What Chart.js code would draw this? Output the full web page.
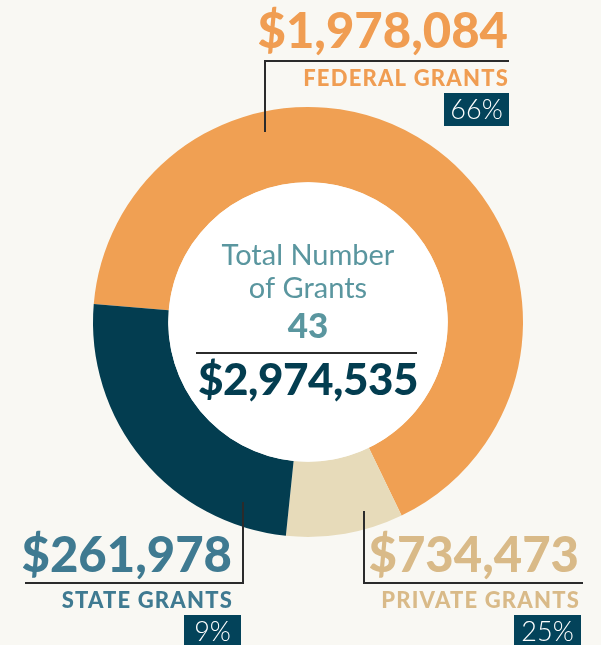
<!DOCTYPE html>
<html>
<head>
<meta charset="utf-8">
<script src="https://cdn.jsdelivr.net/npm/chart.js@4"></script>
<style>
  html, body { margin: 0; padding: 0; background: #f9f8f3; }
  #wrap { width: 601px; height: 645px; }
</style>
</head>
<body>
<div id="wrap"><canvas id="grafica"></canvas></div>
<script>
// Datos de la grafica (orden de los sectores: naranja, beige, azul)
var categorias = ['Federal Grants', 'State Grants', 'Private Grants'];
var montos = [1978084, 261978, 734473];
var etiquetasMonto = ['$1,978,084', '$261,978', '$734,473'];
var etiquetasNombre = ['FEDERAL GRANTS', 'STATE GRANTS', 'PRIVATE GRANTS'];
var etiquetasPct = ['66%', '9%', '25%'];
var totalGrants = 43;
var totalMonto = '$2,974,535';

var colores = ['#f0a053', '#e7dbba', '#033d50'];

// Textos alrededor de la dona
var anotaciones = {
    id: 'anotaciones',
    beforeDraw: function(chart) {
        var ctx = chart.ctx;
        ctx.save();
        ctx.fillStyle = '#f9f8f3';
        ctx.fillRect(0, 0, chart.width, chart.height);
        ctx.restore();
    },
    afterDatasetsDraw: function(chart) {
        var ctx = chart.ctx;
        var arc = chart.getDatasetMeta(0).data[0];
        var cx = arc.x, cy = arc.y;
        ctx.save();

        // circulo blanco del centro
        ctx.fillStyle = '#ffffff';
        ctx.beginPath();
        ctx.arc(cx, cy, arc.innerRadius, 0, Math.PI * 2);
        ctx.fill();

        // texto central
        ctx.textAlign = 'center';
        ctx.fillStyle = '#5a969f';
        ctx.font = '29px Lato';
        ctx.fillText('Total Number', cx, 265);
        ctx.fillText('of Grants', cx, 298);
        ctx.font = '900 35px Lato';
        ctx.fillText(String(totalGrants), cx, 338);
        ctx.fillStyle = '#033d50';
        ctx.font = '900 44px Lato';
        ctx.letterSpacing = '-0.5px';
        ctx.fillText(totalMonto, cx, 395);

        // lineas guia
        ctx.strokeStyle = '#2b2b2b';
        ctx.lineWidth = 2;
        ctx.beginPath();
        ctx.moveTo(196, 353); ctx.lineTo(417, 353);
        ctx.moveTo(265, 132); ctx.lineTo(265, 61); ctx.lineTo(509, 61);
        ctx.moveTo(25, 583); ctx.lineTo(243, 583); ctx.lineTo(243, 502);
        ctx.moveTo(364, 511); ctx.lineTo(364, 583); ctx.lineTo(583, 583);
        ctx.stroke();

        var pos = [
            { x: 508, yMonto: 48, yNombre: 86, caja: [444, 93, 65, 33], color: '#f09d52' },
            { x: 232, yMonto: 572, yNombre: 608, caja: [184, 615, 57, 32], color: '#3f7a91' },
            { x: 579, yMonto: 572, yNombre: 608, caja: [514, 615, 67, 32], color: '#d9ba88' }
        ];
        ctx.textAlign = 'right';
        for (var i = 0; i < categorias.length; i++) {
            var p = pos[i];
            ctx.fillStyle = p.color;
            ctx.font = '900 49px Lato';
            ctx.letterSpacing = '0px';
            ctx.fillText(etiquetasMonto[i], p.x, p.yMonto);
            ctx.font = '900 22px Lato';
            ctx.letterSpacing = '1.2px';
            ctx.fillText(etiquetasNombre[i], p.x + 1, p.yNombre);
            ctx.letterSpacing = '0px';
            ctx.fillStyle = '#03435a';
            ctx.fillRect(p.caja[0], p.caja[1], p.caja[2], p.caja[3]);
            ctx.fillStyle = '#ffffff';
            ctx.textAlign = 'center';
            ctx.font = '300 27px Lato';
            ctx.fillText(etiquetasPct[i], p.caja[0] + p.caja[2] / 2, p.caja[1] + 26);
            ctx.textAlign = 'right';
        }
        ctx.restore();
    }
};

window.onload = function() {
    var ctx = document.getElementById('grafica').getContext('2d');
    window.myDoughnut = new Chart(ctx, {
        type: 'doughnut',
        data: {
            labels: categorias,
            datasets: [{
                data: montos,
                backgroundColor: colores,
                borderWidth: 0,
                hoverOffset: 0,
                offset: 0
            }]
        },
        options: {
            responsive: true,
            maintainAspectRatio: false,
            animation: false,
            cutout: '65%',
            rotation: 274.8,
            layout: {
                padding: { left: 93, right: 78, top: 107, bottom: 108 }
            },
            plugins: {
                legend: { display: false },
                tooltip: { enabled: false }
            }
        },
        plugins: [anotaciones]
    });
};
</script>
</body>
</html>
